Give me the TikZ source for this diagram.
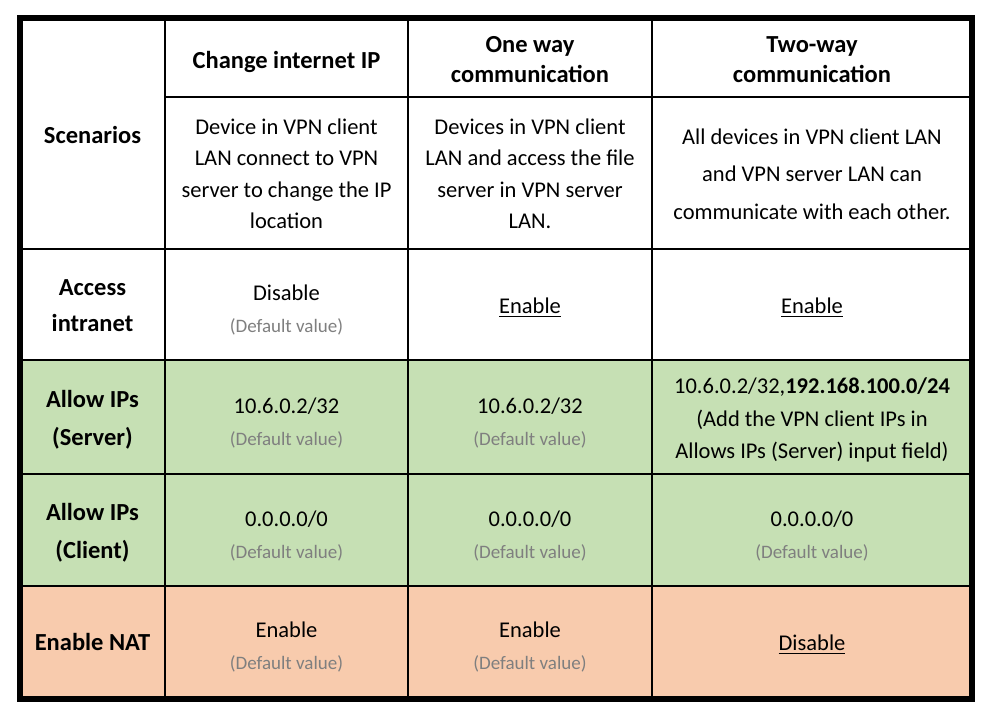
\documentclass[tikz,border=0pt]{standalone}
\usepackage{fontspec}
\setmainfont{Carlito}

\definecolor{rowgreen}{HTML}{C6E0B4}
\definecolor{rownat}{HTML}{F8CBAD}
\definecolor{dfgray}{HTML}{7F7F7F}

\tikzset{
  hd/.style={font=\bfseries\fontsize{24.5}{30}\selectfont, align=center},
  cell/.style={font=\fontsize{22.5}{31.5}\selectfont, align=center},
  gridline/.style={line width=1.6pt, draw=black},
  frameline/.style={line width=6pt, draw=black},
}
\newcommand{\dflt}{{\fontsize{19}{31.5}\selectfont\color{dfgray}(Default value)}}
\newcommand{\ulin}[1]{\setbox0=\hbox{#1}\rlap{\rule[-4pt]{\wd0}{1.5pt}}\box0}

\begin{document}
\begin{tikzpicture}[x=1pt, y=-1pt]
	\useasboundingbox (0,0) rectangle (991,716) ;
	\fill [white] (0,0) rectangle (991,716) ;

	% row colours
	\fill [rowgreen] (20,360) rectangle (972,586) ;
	\fill [rownat] (20,586) rectangle (972,699) ;

	% grid
	\draw [gridline] (165,97) -- (972,97) ;
	\foreach \y in {249,360,474,586}
		\draw [gridline] (20,\y) -- (972,\y) ;
	\foreach \x in {165,408,652}
		\draw [gridline] (\x,18) -- (\x,699) ;
	\draw [frameline] (20,18) rectangle (972,699) ;

	% header
	\node [hd, anchor=base] (scen) at (92.5,143) {Scenarios} ;
	\node [hd, anchor=base] (hchange) at (286.5,68.5) {Change internet IP} ;
	\node [hd] (honeway) at (530,60) {One way\\communication} ;
	\node [hd] (htwoway) at (812,60) {Two-way\\communication} ;

	\node [cell] (dchange) at (286.5,174) {Device in VPN client\\LAN connect to VPN\\server to change the IP\\location} ;
	\node [cell] (doneway) at (530,174) {Devices in VPN client\\LAN and access the file\\server in VPN server\\LAN.} ;
	\node [cell, font=\fontsize{22.5}{37.5}\selectfont] (dtwoway) at (812,174) {All devices in VPN client LAN\\and VPN server LAN can\\communicate with each other.} ;

	% access intranet
	\node [hd, font=\bfseries\fontsize{24.5}{36}\selectfont] (access) at (92.5,306) {Access\\intranet} ;
	\node [cell] (acchange) at (286.5,310) {Disable\\\dflt} ;
	\node [cell, anchor=base] (aconeway) at (530,313) {\ulin{Enable}} ;
	\node [cell, anchor=base] (actwoway) at (812,313) {\ulin{Enable}} ;

	% allow ips server
	\node [hd, font=\bfseries\fontsize{24.5}{38}\selectfont] (server) at (92.5,419.5) {Allow IPs\\(Server)} ;
	\node [cell] (svchange) at (286.5,423) {10.6.0.2/32\\\dflt} ;
	\node [cell] (svoneway) at (530,423) {10.6.0.2/32\\\dflt} ;
	\node [cell, font=\fontsize{22.5}{32.5}\selectfont] (svtwoway) at (812,420) {10.6.0.2/32,\textbf{192.168.100.0/24}\\(Add the VPN client IPs in\\Allows IPs (Server) input field)} ;

	% allow ips client
	\node [hd, font=\bfseries\fontsize{24.5}{38}\selectfont] (client) at (92.5,532.5) {Allow IPs\\(Client)} ;
	\node [cell] (clchange) at (286.5,536) {0.0.0.0/0\\\dflt} ;
	\node [cell] (cloneway) at (530,536) {0.0.0.0/0\\\dflt} ;
	\node [cell] (cltwoway) at (812,536) {0.0.0.0/0\\\dflt} ;

	% enable nat
	\node [hd, anchor=base] (nat) at (92.5,650) {Enable NAT} ;
	\node [cell] (natchange) at (286.5,647) {Enable\\\dflt} ;
	\node [cell] (natoneway) at (530,647) {Enable\\\dflt} ;
	\node [cell, anchor=base] (nattwoway) at (812,650) {\ulin{Disable}} ;
\end{tikzpicture}
\end{document}
